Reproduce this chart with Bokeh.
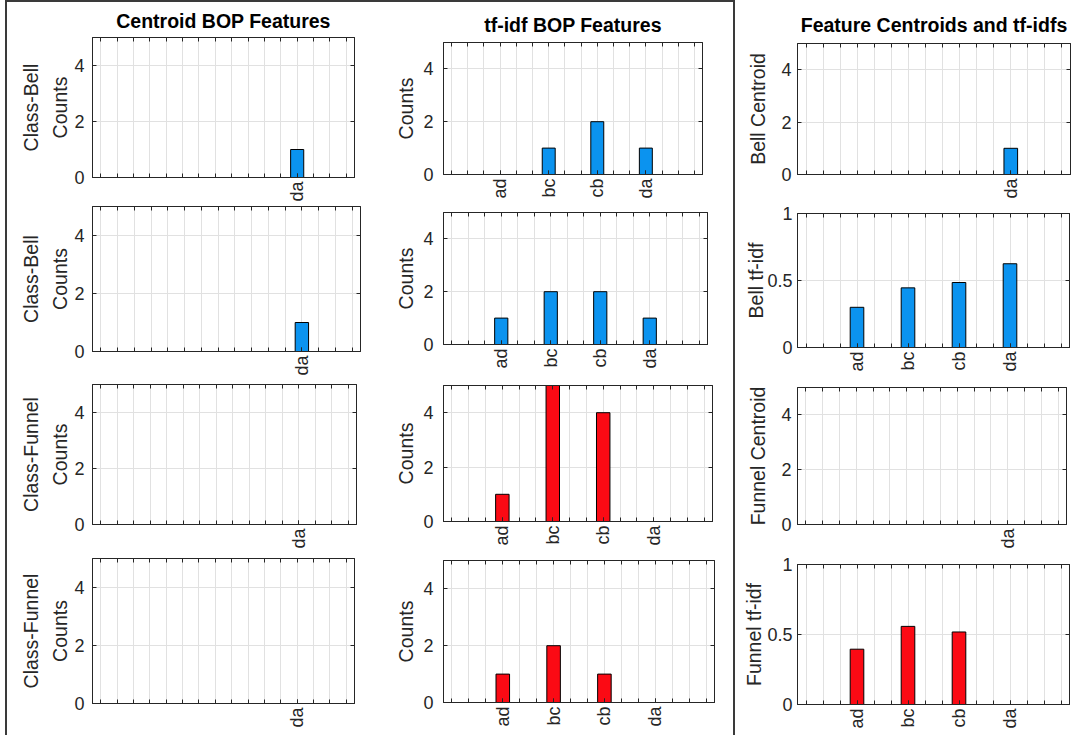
from math import pi

from bokeh.embed import file_html
from bokeh.layouts import column, row
from bokeh.models import ColumnDataSource, FixedTicker, Grid, LinearAxis, Range1d, Spacer
from bokeh.plotting import figure
from bokeh.resources import INLINE

# Bag-of-patterns bigram vocabulary (alphabet a-d)
categories = ["aa", "ab", "ac", "ad", "ba", "bb", "bc", "bd",
              "ca", "cb", "cc", "cd", "da", "db", "dc", "dd"]

# Centroid BOP features, one row per training series
bell_centroid_1 = [0, 0, 0, 0, 0, 0, 0, 0, 0, 0, 0, 0, 1, 0, 0, 0]
bell_centroid_2 = [0, 0, 0, 0, 0, 0, 0, 0, 0, 0, 0, 0, 1, 0, 0, 0]
funnel_centroid_1 = [0, 0, 0, 0, 0, 0, 0, 0, 0, 0, 0, 0, 0, 0, 0, 0]
funnel_centroid_2 = [0, 0, 0, 0, 0, 0, 0, 0, 0, 0, 0, 0, 0, 0, 0, 0]

# tf-idf BOP feature counts
bell_tfidf_counts_1 = [0, 0, 0, 0, 0, 0, 1, 0, 0, 2, 0, 0, 1, 0, 0, 0]
bell_tfidf_counts_2 = [0, 0, 0, 1, 0, 0, 2, 0, 0, 2, 0, 0, 1, 0, 0, 0]
funnel_tfidf_counts_1 = [0, 0, 0, 1, 0, 0, 5, 0, 0, 4, 0, 0, 0, 0, 0, 0]
funnel_tfidf_counts_2 = [0, 0, 0, 1, 0, 0, 2, 0, 0, 1, 0, 0, 0, 0, 0, 0]

# Class-level centroids and tf-idf weights
bell_class_centroid = [0, 0, 0, 0, 0, 0, 0, 0, 0, 0, 0, 0, 1, 0, 0, 0]
bell_class_tfidf = [0, 0, 0, 0.30, 0, 0, 0.445, 0, 0, 0.485, 0, 0, 0.625, 0, 0, 0]
funnel_class_centroid = [0, 0, 0, 0, 0, 0, 0, 0, 0, 0, 0, 0, 0, 0, 0, 0]
funnel_class_tfidf = [0, 0, 0, 0.395, 0, 0, 0.558, 0, 0, 0.518, 0, 0, 0, 0, 0, 0]

# tick labels shown on each kind of panel
labels_single = ["da"]
labels_four = ["ad", "bc", "cb", "da"]

count_ticks = [0, 2, 4]
weight_ticks = [0, 0.5, 1]

BELL = "#0b93ef"
FUNNEL = "#fb0a14"
INK = "#262626"
GRIDC = "#e1e1e1"
FONT = "Liberation Sans"
FRAME = "#3a3a3a"
DX = -3  # nudge every plot frame horizontally


def panel(values, shown, y_end, y_ticks, color, ylabel, cell, frame,
          title=None, title_standoff=10, lab_standoff=8, tick_standoff=8):
    cx0, cy0, cx1, cy1 = cell
    fx0, fy0, fx1, fy1 = frame
    fx0 += DX
    fx1 += DX
    fw, fh = fx1 - fx0, fy1 - fy0
    bl, bt = fx0 - cx0, fy0 - cy0
    br, bb = cx1 - fx1, cy1 - fy1
    p = figure(width=cx1 - cx0, height=cy1 - cy0, frame_width=fw, frame_height=fh,
               min_border_left=bl, min_border_right=br,
               min_border_top=bt, min_border_bottom=bb,
               x_range=Range1d(0.5, len(categories) + 0.5),
               y_range=Range1d(0, y_end),
               x_axis_location=None, y_axis_location=None,
               tools="", toolbar_location=None, output_backend="svg")
    p.center = []
    p.background_fill_color = "white"
    p.border_fill_color = "white"
    p.outline_line_color = INK
    p.outline_line_width = 1

    xs = list(range(1, len(categories) + 1))
    shown_x = [x for x, c in zip(xs, categories) if c in shown]
    x_over = {x: c for x, c in zip(xs, categories) if c in shown}
    y_over = {t: ("%g" % t) for t in y_ticks}

    # labelled ticks as major ticks, every category tick as an (equal length) minor tick
    bottom = LinearAxis(ticker=FixedTicker(ticks=shown_x, minor_ticks=xs),
                        major_label_overrides=x_over,
                        major_label_orientation=pi / 2, major_label_standoff=4)
    top = LinearAxis(ticker=FixedTicker(ticks=[], minor_ticks=xs), major_label_standoff=0)
    left = LinearAxis(ticker=FixedTicker(ticks=y_ticks, minor_ticks=[]),
                      major_label_overrides=y_over,
                      major_label_standoff=tick_standoff, axis_label=ylabel,
                      axis_label_standoff=lab_standoff)
    right = LinearAxis(ticker=FixedTicker(ticks=[], minor_ticks=y_ticks), major_label_standoff=0)
    for ax in (bottom, top, left, right):
        ax.major_tick_in = 4
        ax.major_tick_out = 0
        ax.minor_tick_in = 4
        ax.minor_tick_out = 0
        ax.axis_line_color = INK
        ax.major_tick_line_color = INK
        ax.minor_tick_line_color = INK
        ax.major_label_text_color = INK
        ax.major_label_text_font = FONT
        ax.major_label_text_font_size = "18px"
        ax.axis_label_text_font = FONT
        ax.axis_label_text_color = INK
        ax.axis_label_text_font_style = "normal"
        ax.axis_label_text_font_size = "19.5px"
        ax.axis_label_text_line_height = 1.35
    p.add_layout(bottom, "below")
    p.add_layout(top, "above")
    p.add_layout(left, "left")
    p.add_layout(right, "right")

    p.add_layout(Grid(dimension=0, ticker=FixedTicker(ticks=xs),
                      grid_line_color=GRIDC, grid_line_width=1))
    p.add_layout(Grid(dimension=1, ticker=FixedTicker(ticks=y_ticks),
                      grid_line_color=GRIDC, grid_line_width=1))

    src = ColumnDataSource(dict(x=xs, top=values))
    p.vbar(x="x", top="top", bottom=0, width=0.8, source=src,
           fill_color=color, line_color="black", line_width=1)

    if title:
        p.title.text = title
        p.title.align = "center"
        p.title.text_font = FONT
        p.title.text_font_size = "19.5px"
        p.title.text_font_style = "bold"
        p.title.text_color = "black"
        p.title.standoff = title_standoff
    else:
        p.title = None
    return p


# column cells (x0, y0, x1, y1) and plot frames in page pixels
c1 = [
    panel(bell_centroid_1, labels_single, 5, count_ticks, BELL, "Class-Bell\nCounts",
          (7, 2, 375, 202), (93, 36, 355, 176), title="Centroid BOP Features",
          title_standoff=11, lab_standoff=0),
    panel(bell_centroid_2, labels_single, 5, count_ticks, BELL, "Class-Bell\nCounts",
          (7, 202, 375, 377), (89, 204, 357, 349), lab_standoff=0),
    panel(funnel_centroid_1, labels_single, 5, count_ticks, FUNNEL, "Class-Funnel\nCounts",
          (7, 377, 375, 550), (95, 382, 359, 522), lab_standoff=0),
    panel(funnel_centroid_2, labels_single, 5, count_ticks, FUNNEL, "Class-Funnel\nCounts",
          (7, 550, 375, 735), (93, 556, 355, 701), lab_standoff=0),
]
c2 = [
    panel(bell_tfidf_counts_1, labels_four, 5, count_ticks, BELL, "Counts",
          (375, 2, 733, 202), (442, 42, 701, 174), title="tf-idf BOP Features",
          title_standoff=13, lab_standoff=3, tick_standoff=10),
    panel(bell_tfidf_counts_2, labels_four, 5, count_ticks, BELL, "Counts",
          (375, 202, 733, 378), (442, 212, 706, 344), lab_standoff=3, tick_standoff=10),
    panel(funnel_tfidf_counts_1, labels_four, 5, count_ticks, FUNNEL, "Counts",
          (375, 378, 733, 553), (444, 385, 713, 521), lab_standoff=3, tick_standoff=10),
    panel(funnel_tfidf_counts_2, labels_four, 5, count_ticks, FUNNEL, "Counts",
          (375, 553, 733, 735), (446, 560, 717, 702), lab_standoff=3, tick_standoff=10),
]
c3 = [
    panel(bell_class_centroid, labels_single, 5, count_ticks, BELL, "Bell Centroid",
          (735, 0, 1076, 200), (798, 43, 1071, 174), title="Feature Centroids and tf-idfs",
          title_standoff=15, lab_standoff=9, tick_standoff=6),
    panel(bell_class_tfidf, labels_four, 1, weight_ticks, BELL, "Bell tf-idf",
          (735, 200, 1076, 376), (800, 212, 1072, 346), lab_standoff=-3, tick_standoff=5),
    panel(funnel_class_centroid, labels_single, 5, count_ticks, FUNNEL, "Funnel Centroid",
          (735, 376, 1076, 550), (798, 386, 1067, 523), lab_standoff=9, tick_standoff=6),
    panel(funnel_class_tfidf, labels_four, 1, weight_ticks, FUNNEL, "Funnel tf-idf",
          (735, 550, 1076, 735), (796, 563, 1068, 703), lab_standoff=-1, tick_standoff=5),
]

edge = {"background-color": FRAME}
layout = row(
    Spacer(width=5, height=735),
    Spacer(width=2, height=735, styles=edge),
    column(Spacer(width=726, height=2, styles=edge), row(column(*c1), column(*c2))),
    Spacer(width=2, height=735, styles=edge),
    column(*c3),
)

open("out.html", "w").write(file_html(layout, INLINE))
